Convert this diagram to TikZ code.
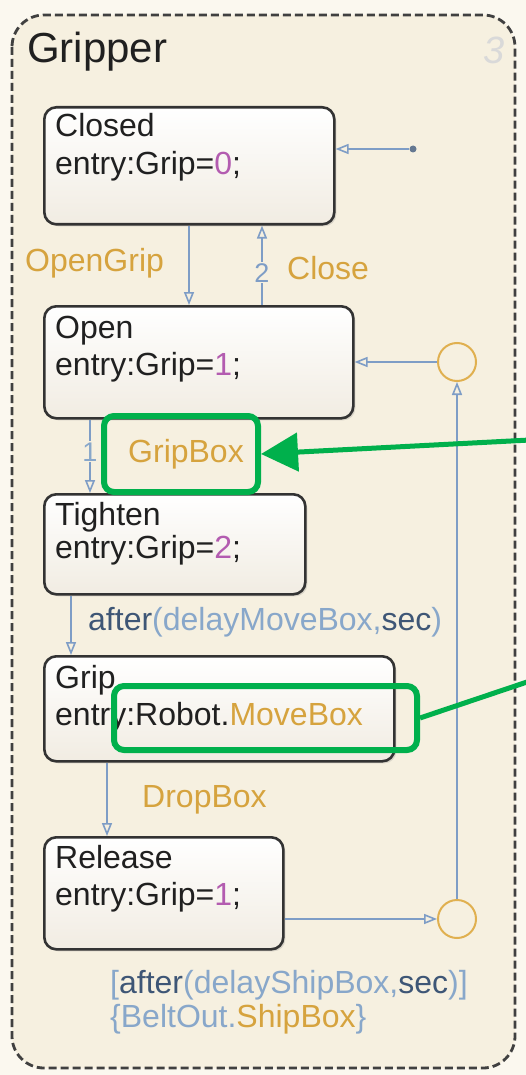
\documentclass[tikz,border=0pt]{standalone}
\usepackage{fontspec}
\setmainfont{Liberation Sans}
\usetikzlibrary{arrows.meta,shadows}
\definecolor{pagebg}{HTML}{FBF8EF}
\definecolor{chartbg}{HTML}{F6F0E0}
\definecolor{txt}{HTML}{202020}
\definecolor{num}{HTML}{B35CB0}
\definecolor{evt}{HTML}{D6A33E}
\definecolor{tline}{HTML}{7E9DC6}
\definecolor{kw}{HTML}{3E5676}
\definecolor{lb}{HTML}{88A7CA}
\definecolor{hl}{HTML}{00B04C}
\definecolor{junc}{HTML}{E0B050}
\definecolor{boxbot}{HTML}{F1ECE2}
\begin{document}
\begin{tikzpicture}[x=1pt,y=-1pt,
  statebox/.style={draw=black!80, line width=2.6pt, rounded corners=12pt,
    top color=white, bottom color=boxbot, anchor=north west, inner sep=0pt,
    drop shadow={opacity=0.25, shadow xshift=2pt, shadow yshift=-2pt}},
  stxt/.style={anchor=base west, inner sep=0pt, text=txt, font=\fontsize{32}{37}\selectfont},
  lbl/.style={anchor=base west, inner sep=0pt, font=\fontsize{32}{37}\selectfont},
  trans/.style={draw=tline, line width=1.6pt, -{Triangle[open, length=13pt, width=10pt]}},
  junction/.style={circle, draw=junc, line width=2pt, minimum size=38pt, inner sep=0pt},
  hlbox/.style={draw=hl, line width=6pt, rounded corners=10pt, anchor=north west, inner sep=0pt},
  hlline/.style={draw=hl, line width=5pt},
  prio/.style={anchor=base, inner sep=1pt, fill=chartbg, font=\fontsize{27}{30}\selectfont},
]
\useasboundingbox (0,0) rectangle (526,1075);
\fill[pagebg] (0,0) rectangle (526,1075);
% chart
\draw[draw=black!75, line width=2.8pt, dash pattern=on 8pt off 4pt, rounded corners=32pt, fill=chartbg] (12,15) rectangle (515,1068);
\node[anchor=base west, inner sep=0pt, text=txt, font=\fontsize{42}{48}\selectfont] (title) at (27,63) {Gripper};
\node[anchor=base, inner sep=0pt, text=black!15, font=\fontsize{38}{40}\selectfont\itshape] (cnum) at (494,64) {3};

% states
\node[statebox, minimum width=290pt, minimum height=117pt] (closed) at (43,106) {};
\node[stxt] (closedA) at (55,137) {Closed};
\node[stxt] (closedB) at (55,175) {entry:Grip=\textcolor{num}{0};};

\node[statebox, minimum width=309pt, minimum height=112pt] (open) at (43,305) {};
\node[stxt] (openA) at (55,338) {Open};
\node[stxt] (openB) at (55,375) {entry:Grip=\textcolor{num}{1};};

\node[statebox, minimum width=261pt, minimum height=100pt] (tighten) at (43,493) {};
\node[stxt] (tightenA) at (55,525) {Tighten};
\node[stxt] (tightenB) at (55,558) {entry:Grip=\textcolor{num}{2};};

\node[statebox, minimum width=350pt, minimum height=105pt] (grip) at (43,655) {};
\node[stxt] (gripA) at (55,688) {Grip};
\node[stxt] (gripB) at (55,725) {entry:Robot.\textcolor{evt}{MoveBox}};

\node[statebox, minimum width=239pt, minimum height=112pt] (release) at (43,836) {};
\node[stxt] (releaseA) at (55,868) {Release};
\node[stxt] (releaseB) at (55,905) {entry:Grip=\textcolor{num}{1};};

% junctions
\node[junction] (j1) at (457,362) {};
\node[junction] (j2) at (457,919) {};

% default transition
\node[circle, fill=kw!80, inner sep=0pt, minimum size=7pt] (dflt) at (413,149) {};
\draw[trans] (dflt) -- (dflt -| closed.east);

% Closed <-> Open
\coordinate (xog) at (189,0);
\coordinate (xcl) at (262,0);
\draw[trans] (xog |- closed.south) -- (xog |- open.north);
\draw[trans] (xcl |- open.north) -- (xcl |- closed.south);
\node[lbl, text=evt] (lOG) at (25,271) {OpenGrip};
\node[lbl, text=evt] (lCl) at (287,279) {Close};
\node[prio, text=tline] (p2) at (262,282) {2};

% Open -> Tighten
\coordinate (xgb) at (90,0);
\draw[trans] (xgb |- open.south) -- (xgb |- tighten.north);
\node[prio, text=lb] (p1) at (90,461) {1};
\node[lbl, text=evt] (lGB) at (128,462) {GripBox};

% Tighten -> Grip
\coordinate (xaf) at (71,0);
\draw[trans] (xaf |- tighten.south) -- (xaf |- grip.north);
\node[lbl] (lAf) at (88,630) {\textcolor{kw}{after}\textcolor{lb}{(delayMoveBox,}\textcolor{kw}{sec}\textcolor{lb}{)}};

% Grip -> Release
\coordinate (xdb) at (107,0);
\draw[trans] (xdb |- grip.south) -- (xdb |- release.north);
\node[lbl, text=evt] (lDB) at (142,807) {DropBox};

% Release -> j2 -> j1 -> Open
\draw[trans] (release.east |- j2.west) -- (j2.west);
\draw[trans] (j2.north) -- (j1.south);
\draw[trans] (j1.west) -- (j1.west -| open.east);
\node[lbl] (lSh1) at (110,993) {\textcolor{lb}{[}\textcolor{kw}{after}\textcolor{lb}{(delayShipBox,}\textcolor{kw}{sec}\textcolor{lb}{)]}};
\node[lbl] (lSh2) at (110,1027) {\textcolor{lb}{\{BeltOut.}\textcolor{evt}{ShipBox}\textcolor{lb}{\}}};

% highlights
\node[hlbox, minimum width=154pt, minimum height=76pt] (hl1) at (101,413) {};
\node[hlbox, minimum width=303pt, minimum height=64pt] (hl2) at (111,683) {};
\coordinate (ga) at (530,440);
\coordinate (gb) at (530,681);
\draw[hlline, -{Triangle[length=37pt, width=38pt]}] (ga) -- (hl1.east);
\draw[hlline] (gb) -- (hl2.east);
\end{tikzpicture}
\end{document}
